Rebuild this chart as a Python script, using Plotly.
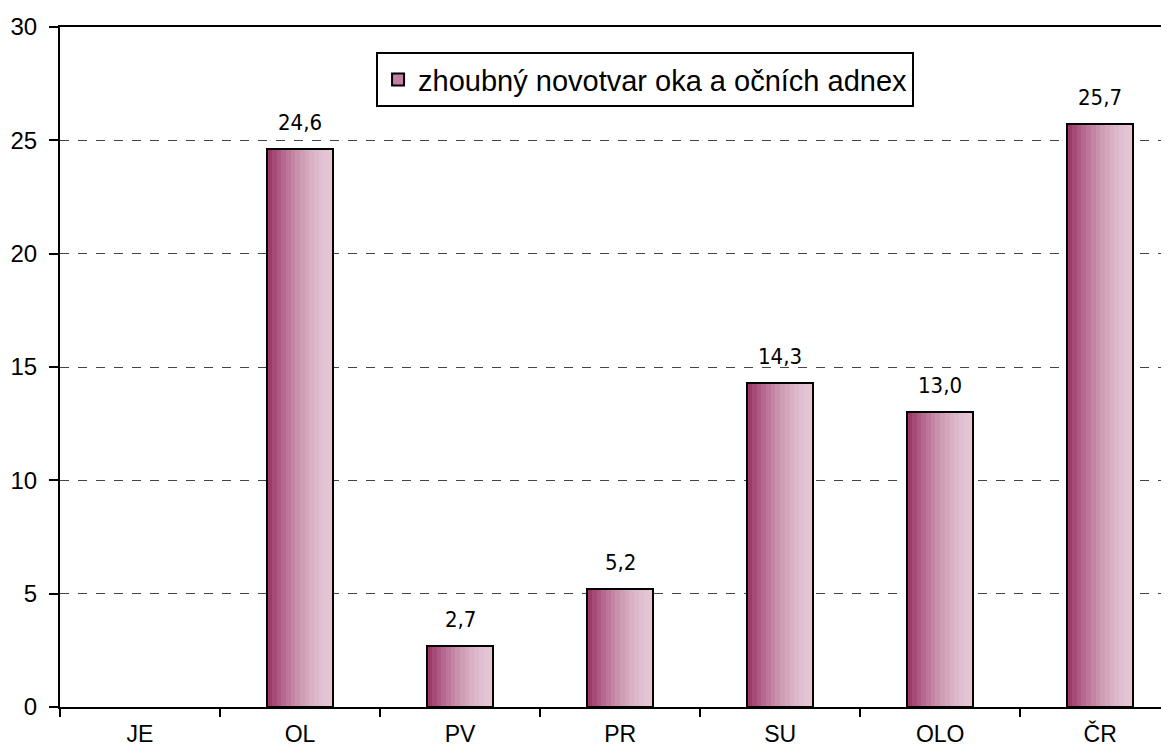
import plotly.graph_objects as go

categories = ["JE", "OL", "PV", "PR", "SU", "OLO", "ČR"]
values = [None, 24.6, 2.7, 5.2, 14.3, 13.0, 25.7]
series_name = "zhoubný novotvar oka a očních adnex"
y_ticks = [0, 5, 10, 15, 20, 25, 30]

BAR_W = 0.41
N = 14
c0 = (158, 56, 106)
c1 = (228, 198, 213)

fig = go.Figure()
for i in range(N):
    t = i / (N - 1)
    t = 1 - (1 - t) ** 1.6
    col = "rgb(%d,%d,%d)" % tuple(round(a + (b - a) * t) for a, b in zip(c0, c1))
    fig.add_trace(go.Bar(
        x=categories, y=values,
        width=BAR_W / N * 1.15,
        offset=-BAR_W / 2 + i * BAR_W / N,
        marker=dict(color=col, line=dict(width=0)),
        showlegend=False, hoverinfo="skip",
    ))

fig.add_trace(go.Bar(
    x=categories, y=values, width=BAR_W,
    marker=dict(color="rgba(0,0,0,0)", line=dict(color="black", width=2)),
    showlegend=False,
))

fig.add_trace(go.Bar(
    x=[categories[0]], y=[None], name=series_name,
    marker=dict(color="rgb(196,128,162)", line=dict(color="black", width=1)),
    showlegend=True,
))

for c, v in zip(categories, values):
    if v is None:
        continue
    fig.add_annotation(
        x=c, y=v, text=f"{v:.1f}".replace(".", ","),
        showarrow=False, yanchor="bottom", yshift=12,
        font=dict(family="Liberation Sans Narrow, DejaVu Sans Condensed, sans-serif", size=22, color="black"),
    )

# page body has an 8px default margin, so the figure is 8px smaller
fig.update_layout(
    width=1161, height=738,
    margin=dict(l=52, r=0, t=19, b=39, autoexpand=False),
    barmode="overlay", bargap=0,
    plot_bgcolor="white", paper_bgcolor="white",
    font=dict(family="Liberation Sans, Arial, sans-serif", size=23, color="black"),
    legend=dict(
        x=0.285, y=0.963, xanchor="left", yanchor="top",
        bgcolor="white", bordercolor="black", borderwidth=2,
        font=dict(size=29),
        itemsizing="constant",
    ),
)

fig.update_xaxes(
    type="category", categoryorder="array", categoryarray=categories,
    range=[-0.5, 6.43],
    showline=True, linecolor="black", linewidth=2, mirror=True,
    ticks="outside", tickson="boundaries", ticklen=8, tickwidth=2, tickcolor="black",
    showgrid=False, ticklabelstandoff=5, automargin=False,
)
fig.update_yaxes(
    range=[0, 30], tickvals=y_ticks, tickfont=dict(size=24),
    showline=True, linecolor="black", linewidth=2,
    ticks="outside", ticklen=9, tickwidth=2, tickcolor="black",
    showgrid=True, gridcolor="#444", gridwidth=1, griddash="dash",
    zeroline=False, ticklabelstandoff=7, automargin=False,
)

fig.write_html("out.html")
